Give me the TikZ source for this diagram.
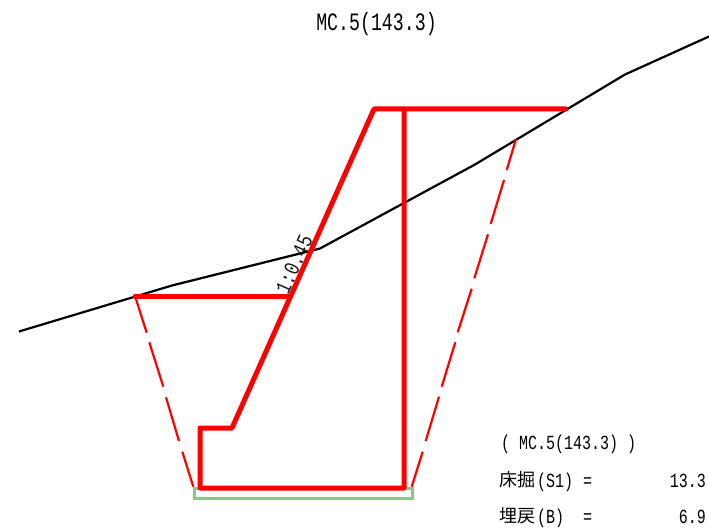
\documentclass[tikz,border=0pt]{standalone}
\usepackage{fontspec}
\newfontfamily\gmono[FakeStretch=0.75]{Liberation Mono}
\newfontfamily\gmonotitle[FakeStretch=0.73]{Liberation Mono}
\newfontfamily\gmonosl[FakeStretch=0.78]{Liberation Mono}
\newfontfamily\jp{Noto Sans CJK JP}
\definecolor{basegreen}{RGB}{135,200,135}
\tikzset{
  ground/.style={draw=black,line width=2.2pt,line join=round},
  wall/.style={draw=red,line width=5pt,line join=round,line cap=round},
  excav/.style={draw=red,line width=2.2pt},
  base/.style={draw=basegreen,line width=3pt},
  titletext/.style={inner sep=0pt,font=\gmonotitle\fontsize{25}{25}\selectfont,text=black},
  sumtext/.style={inner sep=0pt,font=\gmono\fontsize{20}{20}\selectfont,text=black,anchor=base west},
  kanji/.style={inner sep=0pt,font=\jp\fontsize{18}{18}\selectfont,text=black,anchor=base west},
  slopetext/.style={inner sep=0pt,font=\gmonosl\fontsize{22}{22}\selectfont,text=black!90,rotate=66}
}
\begin{document}
\begin{tikzpicture}[x=1pt,y=-1pt]
\useasboundingbox (0,0) rectangle (709,532);
% base
\draw[base] (194,488) rectangle (412,498);
% ground
\draw[ground] (19,331.5) -- (172,285.5) -- (320,248.5) -- (475,164.5) -- (625,74.5) -- (709,36.5);
% excavation dashed lines
\draw[excav] (135,296) -- (146.7,332.7) (149.3,342.3) -- (163.3,386.7) (166,397.3) -- (179,441) (182.3,451.7) -- (193.3,486.7);
\draw[excav] (516,139) -- (506.7,170) (504,180) -- (490.7,224) (488,234.3) -- (474.3,278.3) (471.7,288.7) -- (457.7,332.3) (455.3,342.3) -- (441.7,386.7) (439,396.7) -- (425.7,441) (422.7,451.7) -- (411.7,486.7);
% wall
\draw[wall] (566,109) -- (374,109) -- (232,428) -- (200,428) -- (200,488) -- (404,488) -- (404,109);
\draw[wall] (135,296.5) -- (290,296.5);
% texts
\node[titletext] (title) at (376.5,24.5) {MC.5(143.3)};
\node[slopetext] (slope) at (294,264.5) {1:0.45};
\node[sumtext] (head) at (501,449) {( MC.5(143.3) )};
\node[kanji] (s1k) at (499,486.5) {床掘};
\node[sumtext] (s1p) at (537,487) {(S1)};
\node[sumtext] (s1e) at (583,487) {=};
\node[sumtext,anchor=base east] (s1v) at (706,487) {13.3};
\node[kanji] (bk) at (499,522.5) {埋戻};
\node[sumtext] (bp) at (537,523) {(B)};
\node[sumtext] (be) at (583,523) {=};
\node[sumtext,anchor=base east] (bv) at (706,523) {6.9};
\end{tikzpicture}
\end{document}
